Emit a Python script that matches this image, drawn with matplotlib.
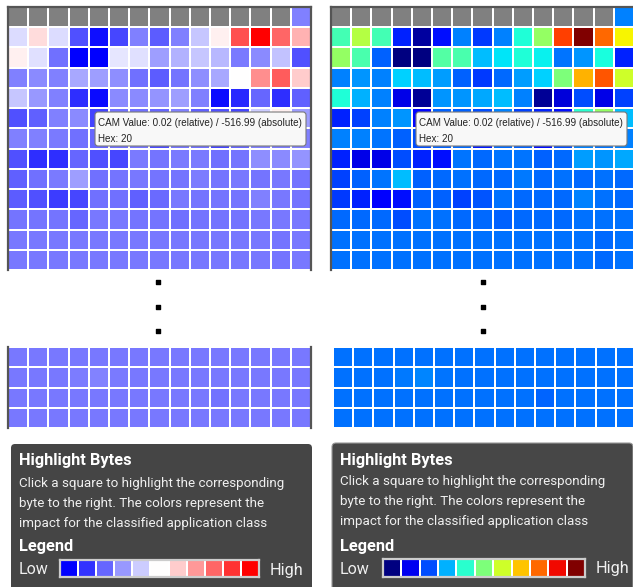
import numpy as np
import matplotlib
matplotlib.use('Agg')
import matplotlib.pyplot as plt
from matplotlib.patches import FancyBboxPatch

W, H = 633, 587
nan = np.nan

# relative CAM value per byte (0 = low impact, 1 = high impact), nan = header byte
cam_top = [
    [nan, nan, nan, nan, nan, nan, nan, nan, nan, nan, nan, nan, nan, nan, 0.25],
    [0.43, 0.57, 0.43, 0.16, 0.03, 0.14, 0.25, 0.18, 0.25, 0.39, 0.53, 0.84, 1.00, 0.80, 0.65],
    [0.53, 0.44, 0.22, 0.00, 0.00, 0.45, 0.44, 0.31, 0.35, 0.39, 0.36, 0.24, 0.27, 0.38, 0.16],
    [0.25, 0.27, 0.25, 0.33, 0.31, 0.28, 0.22, 0.18, 0.23, 0.28, 0.33, 0.50, 0.72, 0.82, 0.60],
    [0.39, 0.30, 0.25, 0.09, 0.02, 0.27, 0.27, 0.29, 0.31, 0.25, 0.02, 0.08, 0.20, 0.09, 0.19],
    [0.16, 0.19, 0.25, 0.27, 0.13, 0.22, 0.22, 0.20, 0.25, 0.19, 0.16, 0.14, 0.40, 0.53, 0.31],
    [0.25, 0.25, 0.24, 0.22, 0.20, 0.22, 0.23, 0.15, 0.23, 0.22, 0.14, 0.20, 0.25, 0.24, 0.25],
    [0.16, 0.09, 0.09, 0.20, 0.16, 0.14, 0.24, 0.23, 0.24, 0.24, 0.22, 0.23, 0.28, 0.27, 0.29],
    [0.19, 0.22, 0.24, 0.31, 0.22, 0.23, 0.235, 0.23, 0.23, 0.245, 0.23, 0.235, 0.23, 0.235, 0.23],
    [0.18, 0.16, 0.12, 0.14, 0.22, 0.22, 0.19, 0.21, 0.235, 0.23, 0.23, 0.23, 0.25, 0.235, 0.23],
    [0.23, 0.23, 0.23, 0.20, 0.235, 0.235, 0.23, 0.23, 0.22, 0.23, 0.23, 0.23, 0.235, 0.235, 0.235],
    [0.235, 0.235, 0.235, 0.235, 0.235, 0.235, 0.235, 0.235, 0.235, 0.235, 0.235, 0.235, 0.235, 0.23, 0.235],
    [0.235, 0.235, 0.235, 0.235, 0.235, 0.235, 0.235, 0.235, 0.235, 0.235, 0.235, 0.235, 0.235, 0.23, 0.235],
]
cam_bottom = [
    [0.235, 0.235, 0.235, 0.235, 0.235, 0.235, 0.235, 0.235, 0.235, 0.235, 0.235, 0.235, 0.235, 0.235, 0.235],
    [0.235, 0.235, 0.235, 0.245, 0.255, 0.24, 0.235, 0.235, 0.235, 0.235, 0.235, 0.235, 0.235, 0.235, 0.235],
    [0.235, 0.235, 0.235, 0.235, 0.235, 0.235, 0.235, 0.235, 0.235, 0.235, 0.225, 0.235, 0.235, 0.235, 0.235],
    [0.235, 0.235, 0.235, 0.235, 0.235, 0.235, 0.235, 0.235, 0.235, 0.235, 0.235, 0.235, 0.235, 0.235, 0.235],
]
legend_levels = [0.0, 0.1, 0.2, 0.3, 0.4, 0.5, 0.6, 0.7, 0.8, 0.9, 1.0]

tooltip_lines = ['CAM Value: 0.02 (relative) / -516.99 (absolute)', 'Hex: 20']
info_title = 'Highlight Bytes'
info_lines = ['Click a square to highlight the corresponding',
              'byte to the right. The colors represent the',
              'impact for the classified application class']


def px_rect(x, y, w, h):
    return [x / W, 1 - (y + h) / H, w / W, h / H]


def byte_grid(fig, rect, data, cmap, spines, lw=1.4, frame='#555555'):
    ax = fig.add_axes(px_rect(*rect))
    vals = np.ma.masked_invalid(np.array(data, dtype=float))
    ax.pcolormesh(vals, cmap=cmap, vmin=0, vmax=1, edgecolors='white', linewidth=lw)
    ax.set_xlim(0, vals.shape[1])
    ax.set_ylim(vals.shape[0], 0)
    ax.set_xticks([])
    ax.set_yticks([])
    for name, sp in ax.spines.items():
        sp.set_visible(name in spines)
        sp.set_color(frame)
        sp.set_linewidth(1.6)
    return ax


def main():
    fig = plt.figure(figsize=(W / 100, H / 100), dpi=100)
    cmaps = [plt.get_cmap('bwr').with_extremes(bad='#808080'),
             plt.get_cmap('jet').with_extremes(bad='#808080')]

    # left panel (bwr) and right panel (jet)
    byte_grid(fig, (8, 7, 303, 263), cam_top, cmaps[0], ['left', 'top', 'right'])
    byte_grid(fig, (331, 7, 303, 263), cam_top, cmaps[1], ['left', 'top'])
    byte_grid(fig, (8, 347, 303, 81), cam_bottom, cmaps[0], ['left', 'right'])
    byte_grid(fig, (333, 347, 303, 81), cam_bottom, cmaps[1], [])

    ov = fig.add_axes([0, 0, 1, 1])
    ov.set_xlim(0, W)
    ov.set_ylim(H, 0)
    ov.axis('off')
    ov.patch.set_alpha(0)

    panels = [(11, 95, 158, 444, '#454545', 'none'), (332, 416, 483, 443, '#474747', '#9a9a9a')]
    for k, (bx, tx, dx, by, bg, edge) in enumerate(panels):
        # tooltip
        ov.add_patch(FancyBboxPatch((tx, 112), 211, 34, boxstyle='round,pad=0,rounding_size=3',
                                    fc='#F8F8F8', ec='#7a7a7a', lw=0.8, zorder=5))
        ov.text(tx + 3, 123, tooltip_lines[0], fontsize=7.1, family='Liberation Sans',
                color='#222222', va='center', zorder=6)
        ov.text(tx + 3, 139, tooltip_lines[1], fontsize=7.1, family='Liberation Sans',
                color='#222222', va='center', zorder=6)

        # vertical ellipsis
        ov.scatter([dx, dx, dx], [282, 307, 331], marker='s', s=12, c='black', zorder=4)

        # info box
        ov.add_patch(FancyBboxPatch((bx, by), 301, 160, boxstyle='round,pad=0,rounding_size=4',
                                    fc=bg, ec=edge, lw=0.8, zorder=2))
        x0 = bx + 8
        ov.text(x0, by + 17, info_title, fontsize=11.8, family='Roboto', weight='bold',
                color='white', va='center', zorder=3)
        for i, line in enumerate(info_lines):
            ov.text(x0, by + 39 + i * 20, line, fontsize=9.6, family='Roboto',
                    color='#f0f0f0', va='center', zorder=3)
        ov.text(x0, by + 103, 'Legend', fontsize=11.8, family='Roboto', weight='bold',
                color='white', va='center', zorder=3)
        ov.text(x0, by + 126, 'Low', fontsize=11.5, family='Roboto', color='#f0f0f0',
                va='center', zorder=3)
        ov.text(bx + 259 + (k * 5), by + 126, 'High', fontsize=11.8, family='Roboto',
                color='#f0f0f0', va='center', zorder=3)

    # legend swatches
    byte_grid(fig, (60, 560, 199, 17), [legend_levels], cmaps[0],
              ['left', 'top', 'right', 'bottom'], lw=1.2, frame='#cccccc')
    byte_grid(fig, (383, 559, 202, 18), [legend_levels], cmaps[1],
              ['left', 'top', 'right', 'bottom'], lw=1.2, frame='#cccccc')

    fig.savefig('out.png', dpi=100)


if __name__ == '__main__':
    main()
